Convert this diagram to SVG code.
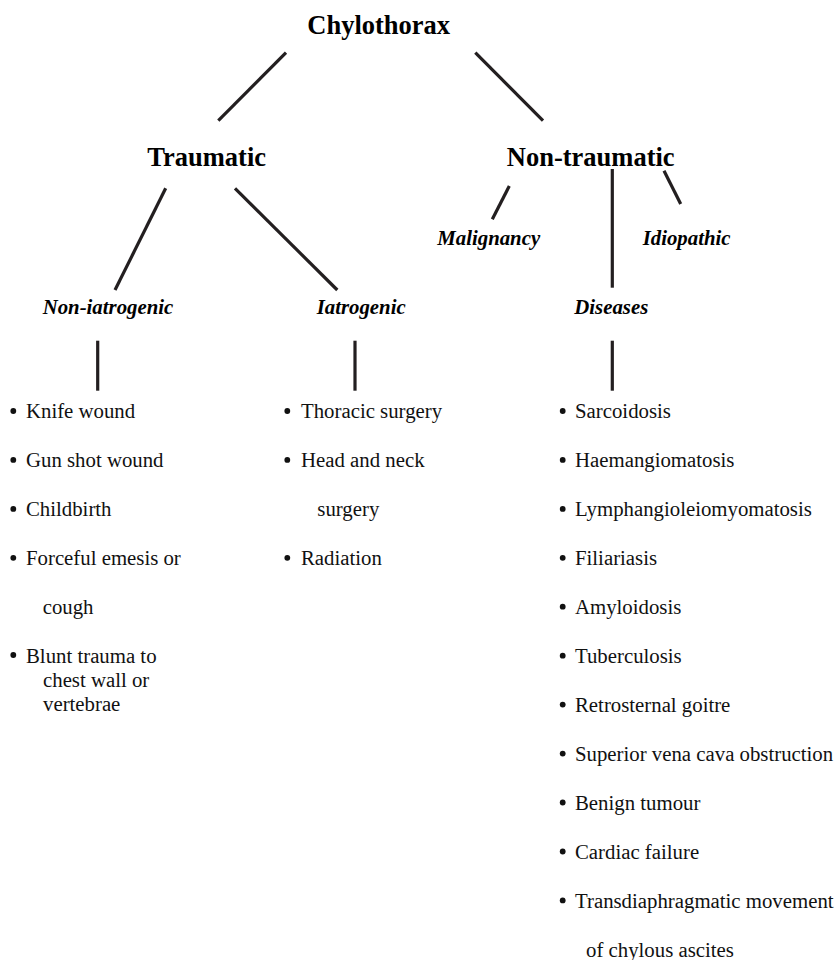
<svg xmlns="http://www.w3.org/2000/svg" width="837" height="960" viewBox="0 0 837 960">
<style>
.h{font-family:"Liberation Serif","Times New Roman",Times,"DejaVu Serif",serif;font-weight:bold;font-size:26.5px;fill:#000}
.s{font-family:"Liberation Serif","Times New Roman",Times,"DejaVu Serif",serif;font-weight:bold;font-style:italic;font-size:20.8px;fill:#000}
.t{font-family:"Liberation Serif","Times New Roman",Times,"DejaVu Serif",serif;font-weight:normal;font-style:normal;font-size:20.8px;fill:#111}
.c line{stroke:#231f20;stroke-width:3.2;stroke-linecap:butt}
.b{fill:#111}
</style>
<rect width="837" height="960" fill="#fff"/>
<g id="connectors" class="c">
<line x1="286" y1="52.7" x2="218.3" y2="120.7"/>
<line x1="475.3" y1="52.7" x2="543" y2="120.7"/>
<line x1="165.7" y1="188.3" x2="115" y2="290"/>
<line x1="235" y1="188.3" x2="337.3" y2="290"/>
<line x1="509.3" y1="186" x2="492.3" y2="219.3"/>
<line x1="612.3" y1="169" x2="612.3" y2="287.7"/>
<line x1="664" y1="170.7" x2="680.7" y2="204"/>
<line x1="97.7" y1="340.7" x2="97.7" y2="390.7"/>
<line x1="355" y1="340.7" x2="355" y2="390.7"/>
<line x1="612.3" y1="340.7" x2="612.3" y2="390.7"/>
</g>
<g id="chylothorax"><text class="h" x="378.7" y="34.3" text-anchor="middle">Chylothorax</text></g>
<g id="traumatic"><text class="h" x="206.7" y="165.7" text-anchor="middle">Traumatic</text></g>
<g id="non-traumatic"><text class="h" x="590.7" y="165.7" text-anchor="middle">Non-traumatic</text></g>
<g id="malignancy"><text class="s" x="437.3" y="245">Malignancy</text></g>
<g id="idiopathic"><text class="s" x="642.7" y="245">Idiopathic</text></g>
<g id="non-iatrogenic"><text class="s" x="42.7" y="314.3">Non-iatrogenic</text></g>
<g id="iatrogenic"><text class="s" x="316.7" y="314.3">Iatrogenic</text></g>
<g id="diseases"><text class="s" x="574.3" y="314.3">Diseases</text></g>
<g id="non-iatrogenic-list">
<circle class="b" cx="13.3" cy="411" r="2.9"/><text class="t" x="26" y="418.3">Knife wound</text>
<circle class="b" cx="13.3" cy="459.9" r="2.9"/><text class="t" x="26" y="467.2">Gun shot wound</text>
<circle class="b" cx="13.3" cy="508.9" r="2.9"/><text class="t" x="26" y="516.4">Childbirth</text>
<circle class="b" cx="13.3" cy="557.8" r="2.9"/><text class="t" x="26" y="565.3">Forceful emesis or</text>
<text class="t" x="42.7" y="614">cough</text>
<circle class="b" cx="13.3" cy="655" r="2.9"/><text class="t" x="26" y="662.5">Blunt trauma to</text>
<text class="t" x="43" y="686.6">chest wall or</text>
<text class="t" x="43" y="710.7">vertebrae</text>
</g>
<g id="iatrogenic-list">
<circle class="b" cx="287.3" cy="411" r="2.9"/><text class="t" x="301" y="418.3">Thoracic surgery</text>
<circle class="b" cx="287.3" cy="459.9" r="2.9"/><text class="t" x="301" y="467.2">Head and neck</text>
<text class="t" x="317.3" y="516.4">surgery</text>
<circle class="b" cx="287.3" cy="557.8" r="2.9"/><text class="t" x="301" y="565.3">Radiation</text>
</g>
<g id="diseases-list">
<circle class="b" cx="562.7" cy="411" r="2.9"/><text class="t" x="575" y="418.3">Sarcoidosis</text>
<circle class="b" cx="562.7" cy="459.9" r="2.9"/><text class="t" x="575" y="467.2">Haemangiomatosis</text>
<circle class="b" cx="562.7" cy="508.9" r="2.9"/><text class="t" x="575" y="516.4">Lymphangioleiomyomatosis</text>
<circle class="b" cx="562.7" cy="557.8" r="2.9"/><text class="t" x="575" y="565.3">Filiariasis</text>
<circle class="b" cx="562.7" cy="606.7" r="2.9"/><text class="t" x="575" y="614.2">Amyloidosis</text>
<circle class="b" cx="562.7" cy="655.7" r="2.9"/><text class="t" x="575" y="663.2">Tuberculosis</text>
<circle class="b" cx="562.7" cy="704.6" r="2.9"/><text class="t" x="575" y="712.1">Retrosternal goitre</text>
<circle class="b" cx="562.7" cy="753.6" r="2.9"/><text class="t" x="575" y="761.1">Superior vena cava obstruction</text>
<circle class="b" cx="562.7" cy="802.5" r="2.9"/><text class="t" x="575" y="810">Benign tumour</text>
<circle class="b" cx="562.7" cy="851.5" r="2.9"/><text class="t" x="575" y="858.9">Cardiac failure</text>
<circle class="b" cx="562.7" cy="900.4" r="2.9"/><text class="t" x="575" y="907.9">Transdiaphragmatic movement</text>
<text class="t" x="586" y="956.7">of chylous ascites</text>
</g>
</svg>
